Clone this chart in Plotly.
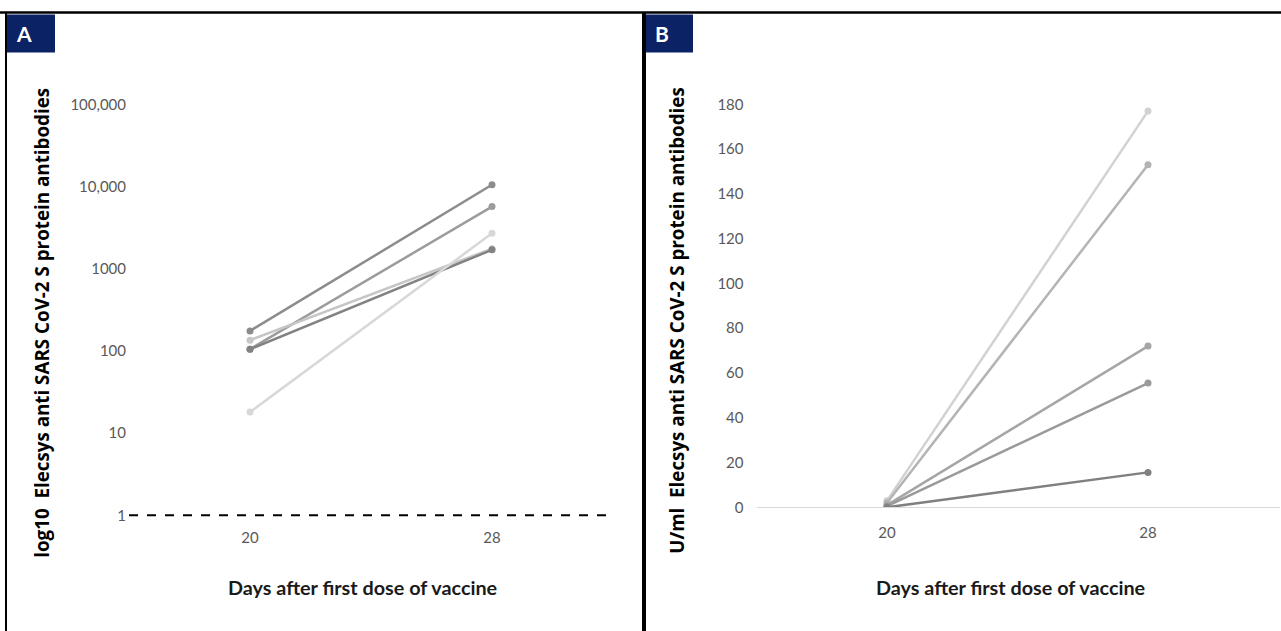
import plotly.graph_objects as go

W, H = 1281, 631

# ---------------- data ----------------
days = ["20", "28"]

# Panel A (log scale, antibody titre)
a_series = [
    [175, 10500],
    [105, 5700],
    [135, 1750],
    [105, 1700],
    [18, 2700],
]
a_colors = ["#8c8c8c", "#9c9c9c", "#c6c6c6", "#828282", "#d8d8d8"]
a_tickvals = [1, 10, 100, 1000, 10000, 100000]
a_ticktext = ["1", "10", "100", "1000", "10,000", "100,000"]

# Panel B (U/ml)
b_series = [
    [3, 177],
    [2, 153],
    [1, 72],
    [0.5, 55.5],
    [0, 15.6],
]
b_colors = ["#d2d2d2", "#b4b4b4", "#a6a6a6", "#9a9a9a", "#808080"]
b_tickvals = [0, 20, 40, 60, 80, 100, 120, 140, 160, 180]

ytitle_a = "log10  Elecsys anti SARS CoV-2 S protein antibodies"
ytitle_b = "U/ml  Elecsys anti SARS CoV-2 S protein antibodies"
xtitle = "Days after first dose of vaccine"


def px(x):
    return x / W


def py(y):
    yf = (y - 8.4) / 0.974
    return 1 - yf / H


fig = go.Figure()

for vals, col in zip(a_series, a_colors):
    fig.add_trace(go.Scatter(x=days, y=vals, mode="lines+markers",
                             line=dict(color=col, width=2.5),
                             marker=dict(color=col, size=7),
                             xaxis="x", yaxis="y", showlegend=False))

for vals, col in zip(b_series, b_colors):
    fig.add_trace(go.Scatter(x=days, y=vals, mode="lines+markers",
                             line=dict(color=col, width=2.5),
                             marker=dict(color=col, size=7),
                             xaxis="x2", yaxis="y2", showlegend=False))

tickfont = dict(family="Lato, Carlito, sans-serif", size=15, color="#595959")

fig.update_layout(
    width=W, height=H,
    margin=dict(l=0, r=0, t=0, b=0),
    paper_bgcolor="white", plot_bgcolor="white",
    xaxis=dict(domain=[px(129), px(613)], type="category", range=[-0.5, 1.5],
               showgrid=False, zeroline=False, showline=False, ticks="",
               tickfont=tickfont, ticklabelstandoff=12, anchor="y"),
    yaxis=dict(domain=[py(515), py(103)], type="log", range=[0, 5],
               tickvals=a_tickvals, ticktext=a_ticktext,
               showgrid=False, zeroline=False, showline=False, ticks="",
               tickfont=tickfont, ticklabelstandoff=2, anchor="x"),
    xaxis2=dict(domain=[px(756.5), px(1280)], type="category",
                range=[-0.5, 1.5 + (1280 - 1278.5) / 261],
                showgrid=False, zeroline=False, showline=True, linecolor="#d9d9d9",
                linewidth=1, ticks="", tickfont=tickfont, ticklabelstandoff=12,
                anchor="y2"),
    yaxis2=dict(domain=[py(507), py(103)], range=[0, 180],
                tickvals=b_tickvals,
                showgrid=False, zeroline=False, showline=False, ticks="",
                tickfont=tickfont, ticklabelstandoff=12, anchor="x2"),
)

shapes = []
# dashed reference line at 1 (bottom of log axis)
shapes.append(dict(type="line", xref="x domain", yref="y domain",
                   x0=0, x1=1, y0=0, y1=0,
                   line=dict(color="black", width=2, dash="dash")))
# panel borders
shapes.append(dict(type="line", xref="paper", yref="paper",
                   x0=0, x1=1, y0=py(11), y1=py(11),
                   line=dict(color="black", width=2.5)))
shapes.append(dict(type="line", xref="paper", yref="paper",
                   x0=px(6), x1=px(6), y0=py(11), y1=-0.05,
                   line=dict(color="black", width=2)))
shapes.append(dict(type="line", xref="paper", yref="paper",
                   x0=px(644), x1=px(644), y0=py(11), y1=-0.05,
                   line=dict(color="black", width=4)))
# panel label boxes
for x0, x1 in [(7, 55), (646, 693)]:
    shapes.append(dict(type="rect", xref="paper", yref="paper",
                       x0=px(x0), x1=px(x1), y0=py(51), y1=py(13),
                       fillcolor="#0b2265", line=dict(width=0)))
fig.update_layout(shapes=shapes)

ann = []
for txt, xc in [("A", 24), ("B", 662)]:
    ann.append(dict(text="<b>%s</b>" % txt, x=px(xc), y=py(32), xref="paper", yref="paper",
                    showarrow=False, xanchor="center", yanchor="middle",
                    font=dict(family="Lato, sans-serif", size=21, color="white")))
for txt, xc, yc in [(ytitle_a, 42, 322), (ytitle_b, 677, 320)]:
    ann.append(dict(text="<b>%s</b>" % txt, x=px(xc), y=py(yc), xref="paper", yref="paper",
                    showarrow=False, textangle=-90, xanchor="center", yanchor="middle",
                    font=dict(family="Open Sans, sans-serif", size=18.8, color="black")))
for xc in [362, 1010]:
    ann.append(dict(text="<b>%s</b>" % xtitle, x=px(xc), y=py(587), xref="paper", yref="paper",
                    showarrow=False, xanchor="center", yanchor="middle",
                    font=dict(family="Lato, sans-serif", size=19.8, color="#1a1a1a")))
fig.update_layout(annotations=ann)

fig.write_html("out.html", config={"displayModeBar": False},
               post_script="document.body.style.margin='0';"
                           "document.body.style.overflow='hidden';")
